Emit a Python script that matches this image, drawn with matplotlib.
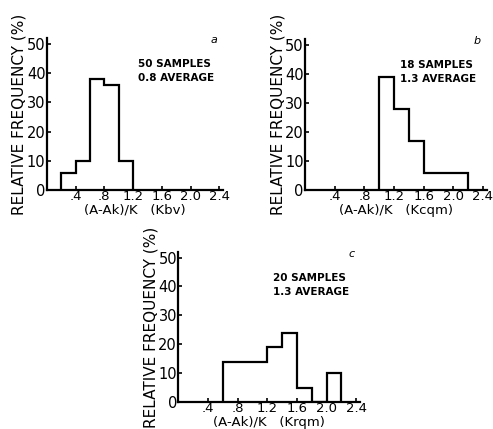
import matplotlib.pyplot as plt

# bin edges and heights (relative frequency, %)
edges_a = [0.2, 0.4, 0.6, 0.8, 1.0, 1.2]
freq_a = [6, 10, 38, 36, 10]

edges_b = [1.0, 1.2, 1.4, 1.6, 2.2]
freq_b = [39, 28, 17, 6]

edges_c = [0.6, 1.2, 1.4, 1.6, 1.8, 2.0, 2.2]
freq_c = [14, 19, 24, 5, 0, 10]

xticks = [0.4, 0.8, 1.2, 1.6, 2.0, 2.4]
xtick_labels = [".4", ".8", "1.2", "1.6", "2.0", "2.4"]
yticks = [0, 10, 20, 30, 40, 50]

panels = [
    ("a", edges_a, freq_a, "50 SAMPLES", "0.8 AVERAGE", "(A-Ak)/K   (Kbv)"),
    ("b", edges_b, freq_b, "18 SAMPLES", "1.3 AVERAGE", "(A-Ak)/K   (Kcqm)"),
    ("c", edges_c, freq_c, "20 SAMPLES", "1.3 AVERAGE", "(A-Ak)/K   (Krqm)"),
]
boxes = [
    [0.095, 0.557, 0.357, 0.354],
    [0.619, 0.557, 0.368, 0.352],
    [0.362, 0.063, 0.368, 0.350],
]

plt.rcParams['font.family'] = 'DejaVu Sans'

fig = plt.figure(figsize=(4.93, 4.29), dpi=100)

for (tag, edges, freq, line1, line2, xlab), box in zip(panels, boxes):
    ax = fig.add_axes(box)
    ax.stairs(freq, edges, color='black', linewidth=1.6, fill=False)
    ax.set_xlim(0, 2.45)
    ax.set_ylim(0, 52)
    for s in ['top', 'right']:
        ax.spines[s].set_visible(False)
    for s in ['left', 'bottom']:
        ax.spines[s].set_linewidth(1.6)
    ax.set_xticks(xticks)
    ax.set_xticklabels(xtick_labels)
    ax.set_yticks(yticks)
    ax.tick_params(axis='y', direction='in', length=3, width=1.2, labelsize=10.5, pad=1)
    ax.tick_params(axis='x', direction='in', length=3, width=1.2, labelsize=9.5, pad=0)
    ax.set_ylabel("RELATIVE FREQUENCY (%)", fontsize=11, labelpad=0)
    ax.set_xlabel(xlab, fontsize=9.5, labelpad=0.5)
    ax.text(0.97, 1.02, tag, transform=ax.transAxes, fontsize=8,
            style='italic', ha='right', va='top')
    ax.text(0.52, 0.86, line1 + "\n" + line2, transform=ax.transAxes,
            fontsize=7.5, fontweight='bold', ha='left', va='top',
            linespacing=1.5)

plt.savefig("out.png")
